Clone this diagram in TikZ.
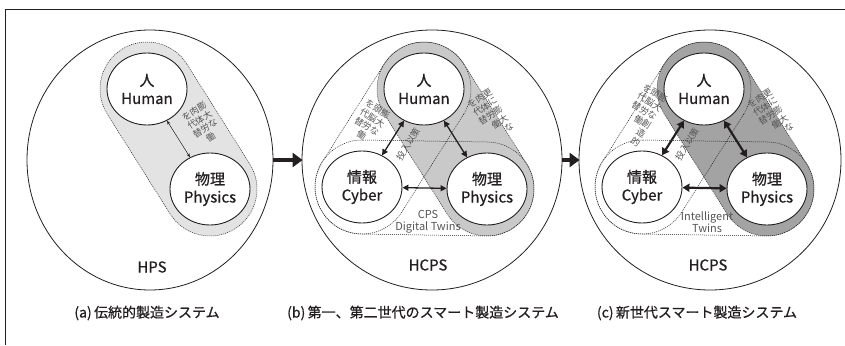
\documentclass[tikz,border=0pt]{standalone}
\usepackage{fontspec}
\setmainfont{Noto Sans CJK JP}
\newfontfamily\medfont[FakeBold=0.7]{Noto Sans CJK JP}
\usetikzlibrary{calc,arrows.meta,shapes.geometric}
\definecolor{ink}{HTML}{231F20}
\definecolor{lgray}{HTML}{E3E3E3}
\definecolor{mgray}{HTML}{C9C9C9}
\definecolor{dgray}{HTML}{A3A3A3}
\definecolor{txtgray}{HTML}{555555}
\newcommand\capR{47pt}
\newcommand\tcol[1]{\begin{tabular}[t]{@{}c@{}}#1\end{tabular}}
\tikzset{
  bigcirc/.style={draw=ink, line width=0.8pt, ellipse, inner sep=0pt},
  unit/.style={draw=ink, line width=0.9pt, ellipse, fill=white, minimum width=80pt, minimum height=72pt, inner sep=0pt, align=center, font=\medfont\fontsize{15}{18}\selectfont, text=ink},
  dotline/.style={draw=ink, line width=0.5pt, dash pattern=on 1pt off 1pt},
  capsule/.style 2 args={insert path={let \p1=(#1), \p2=(#2), \n1={atan2(\y2-\y1,\x2-\x1)} in
    ($(#1)+(\n1+90:\capR)$) -- ($(#2)+(\n1+90:\capR)$)
    arc[start angle=\n1+90, delta angle=-180, radius=\capR]
    -- ($(#1)+(\n1-90:\capR)$)
    arc[start angle=\n1-90, delta angle=-180, radius=\capR] -- cycle}},
  bigarrow/.style={draw=ink, line width=4pt, -{Triangle[length=10pt,width=14pt]}, shorten >=-1pt},
  thinarrow/.style={draw=ink, line width=0.5pt, {Stealth[length=4pt,width=3pt]}-{Stealth[length=4pt,width=3pt]}},
  medarrow/.style={draw=ink, line width=1.3pt, {Triangle[length=6pt,width=6pt]}-{Triangle[length=6pt,width=6pt]}},
  fatarrow/.style={draw=ink, line width=2.2pt, {Triangle[length=7pt,width=8pt]}-{Triangle[length=7pt,width=8pt]}},
  syslabel/.style={font=\medfont\fontsize{15}{18}\selectfont, text=ink},
  caption/.style={font=\medfont\fontsize{14}{16}\selectfont, text=ink},
  smalltxt/.style={font=\fontsize{11}{11.5}\selectfont, text=txtgray, align=center, inner sep=0pt},
  vtxt/.style={font=\fontsize{9}{9.3}\selectfont, text=txtgray, inner sep=0pt},
}
\begin{document}
\begin{tikzpicture}[x=1pt,y=-1pt]
\useasboundingbox (0,0) rectangle (845,345);
% frame
\draw[ink, line width=0.8pt] (5,345) -- (5,9) -- (845,9);

% ---------- (a) ----------
\node[bigcirc, minimum width=246pt, minimum height=260pt] (A) at (150,160) {};
\coordinate (ah) at (147,89);
\coordinate (ap) at (210,189);
\path[fill=lgray, dotline, capsule={ah}{ap}];
\node[unit] (aH) at (ah) {人\\Human};
\node[unit] (aP) at (ap) {物理\\Physics};
\draw[thinarrow] (aH) -- (aP);
\node[vtxt, rotate=32] (aT) at (203,125) {\tcol{を\\代\\替}\tcol{肉\\体\\労\\働}\tcol{膨\\大\\な}};
\node[syslabel] (aL) at (152,267) {HPS};
\node[caption] (aCap) at (147,313) {(a)\,伝統的製造システム};

% ---------- (b) ----------
\node[bigcirc, minimum width=260pt, minimum height=260pt] (B) at (432,160) {};
\coordinate (bh) at (424,89);
\coordinate (bc) at (362,187);
\coordinate (bp) at (487,189);
\path[fill=mgray, capsule={bh}{bp}];
\path[dotline, capsule={bh}{bc}];
\path[dotline, capsule={bc}{bp}];
\path[dotline, capsule={bh}{bp}];
\node[unit] (bH) at (bh) {人\\Human};
\node[unit] (bC) at (bc) {情報\\Cyber};
\node[unit] (bP) at (bp) {物理\\Physics};
\draw[medarrow] (bH) -- (bC);
\draw[medarrow] (bH) -- (bP);
\draw[medarrow] (bC) -- (bP);
\node[vtxt, rotate=-32] (bTl) at (369,123) {\tcol{を\\代\\替}\tcol{頭\\脳\\労\\働}\tcol{膨\\大\\な}};
\node[vtxt, rotate=32] (bTr) at (491,116) {\tcol{を\\代\\替}\tcol{肉\\体\\労\\働}\tcol{更\\に\\膨\\大\\な}};
\node[vtxt, rotate=58] (bTm) at (408,144) {投入以策};
\node[smalltxt] (bCPS) at (428,222) {CPS\\Digital Twins};
\node[syslabel] (bL) at (428,265) {HCPS};
\node[caption] (bCap) at (423,313) {(b)\,第一、第二世代のスマート製造システム};

% ---------- (c) ----------
\node[bigcirc, minimum width=262pt, minimum height=260pt] (Cb) at (710,160) {};
\coordinate (ch) at (704,89);
\coordinate (cc) at (642,187);
\coordinate (cp) at (767,189);
\path[fill=dgray, capsule={ch}{cp}];
\path[dotline, capsule={ch}{cc}];
\path[dotline, capsule={cc}{cp}];
\path[dotline, capsule={ch}{cp}];
\node[unit] (cH) at (ch) {人\\Human};
\node[unit] (cC) at (cc) {情報\\Cyber};
\node[unit] (cP) at (cp) {物理\\Physics};
\draw[fatarrow] (cH) -- (cC);
\draw[fatarrow] (cH) -- (cP);
\draw[fatarrow] (cC) -- (cP);
\node[vtxt, rotate=-32] (cTl) at (641,116) {\tcol{を\\代\\替}\tcol{頭\\脳\\労\\働}\tcol{膨\\大\\な\\創\\造\\的}};
\node[vtxt, rotate=32] (cTr) at (771,116) {\tcol{を\\代\\替}\tcol{肉\\体\\労\\働}\tcol{更\\に\\膨\\大\\な}};
\node[vtxt, rotate=58] (cTm) at (687,144) {投入以策};
\node[smalltxt] (cIT) at (707,222) {Intelligent\\Twins};
\node[syslabel] (cL) at (708,265) {HCPS};
\node[caption] (cCap) at (697,313) {(c)\,新世代スマート製造システム};

% arrows between panels
\draw[bigarrow] (A) -- (B);
\draw[bigarrow] (B) -- (Cb);
\end{tikzpicture}
\end{document}
